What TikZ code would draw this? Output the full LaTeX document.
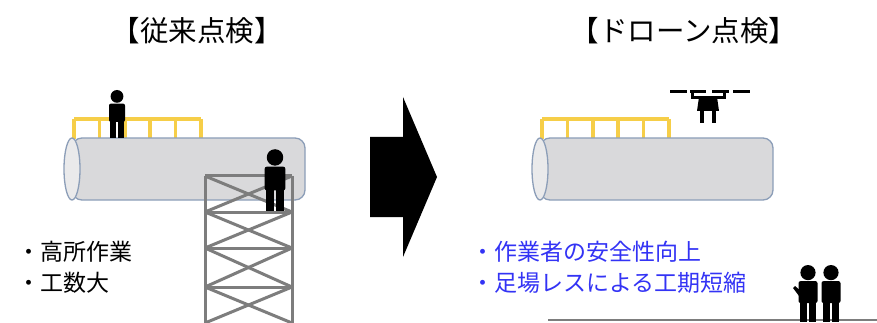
\documentclass[tikz,border=0pt]{standalone}
\usepackage{fontspec}
\setmainfont{Noto Sans CJK JP}
\definecolor{railyellow}{RGB}{246,206,72}
\definecolor{pipeline}{RGB}{140,158,184}
\definecolor{pipefill}{RGB}{217,217,219}
\definecolor{framegray}{RGB}{125,125,125}
\definecolor{goodblue}{RGB}{51,51,245}

\begin{document}
\begin{tikzpicture}[x=1pt,y=-1pt,
  pipe/.style={draw=pipeline, line width=1.3pt, fill=pipefill},
  rail/.style={draw=railyellow, line width=3.5pt},
  frame/.style={draw=framegray, line width=3pt},
  bigtext/.style={font=\fontsize{28.5}{34}\selectfont},
  listtext/.style={font=\fontsize{23}{31}\selectfont, anchor=west, align=left},
  worker/.pic={
    \fill (0,-52) circle (8);
    \fill[rounded corners=2] (-10,-43) rectangle (10,-20);
    \fill (-8.5,-21) rectangle (-1.2,0);
    \fill (1.2,-21) rectangle (8.5,0);
  }]

  \useasboundingbox[fill=white] (0,0) rectangle (877,323);

  % Titles
  \node[bigtext] (oldtitle) at (197,31) {【従来点検】};
  \node[bigtext] (dronetitle) at (684,31) {【ドローン点検】};

  % Pipes with railings on top
  \foreach \dx in {0,468}{
    \begin{scope}[xshift=\dx]
      \draw[rail] (74,119) -- (201,119);
      \foreach \i in {0,...,5}
        \draw[rail] ({74+25.4*\i},119) -- ({74+25.4*\i},139);
      \draw[pipe, rounded corners=10] (72,138) -- (305,138) -- (305,200) -- (72,200) -- cycle;
      \draw[pipe, fill=pipefill!55!white] (72,169) ellipse (8 and 31);
    \end{scope}
  }

  % Worker on the railing
  \pic[scale=0.8] at (117,138) {worker};

  % Scaffold
  \draw[frame] (205,176) -- (205,323);
  \draw[frame] (292,176) -- (292,323);
  \foreach \ya/\yb in {176/212, 212/248, 248/287, 287/323}{
    \draw[frame] (205,\ya) -- (292,\ya);
    \draw[frame] (205,\ya) -- (292,\yb);
    \draw[frame] (292,\ya) -- (205,\yb);
  }
  \pic[scale=1.03] at (275,211) {worker};

  % Issues of the old way
  \node[listtext] (oldpoints) at (14,267) {・高所作業\\・工数大};

  % Arrow
  \fill (370,137) -- (403,137) -- (403,97) -- (437,177) -- (403,257)
    -- (403,217) -- (370,217) -- cycle;

  % Drone
  \begin{scope}[line width=3pt]
    \draw (670,92) -- (687,92);
    \draw (690,92) -- (706,92);
    \draw (712,92) -- (729,92);
    \draw (733,92) -- (750,92);
    \draw (692,93) -- (692,98) -- (724,98) -- (724,93);
  \end{scope}
  \fill (699,97) -- (717,97) -- (719,111) -- (697,111) -- cycle;
  \fill (700,110) rectangle (704,123);
  \fill (712,110) rectangle (716,123);

  % Merits of drone inspection
  \node[listtext, text=goodblue] (dronepoints) at (468,267)
    {・作業者の安全性向上\\・足場レスによる工期短縮};

  % Ground with two workers
  \draw[draw=framegray, line width=1.5pt] (548,320) -- (877,320);
  \pic[scale=0.95] at (808,322) {worker};
  \pic[scale=0.95] at (831,322) {worker};
  \fill (799,296) -- (793,288) -- (795,286) -- (802,292) -- cycle;

\end{tikzpicture}
\end{document}
